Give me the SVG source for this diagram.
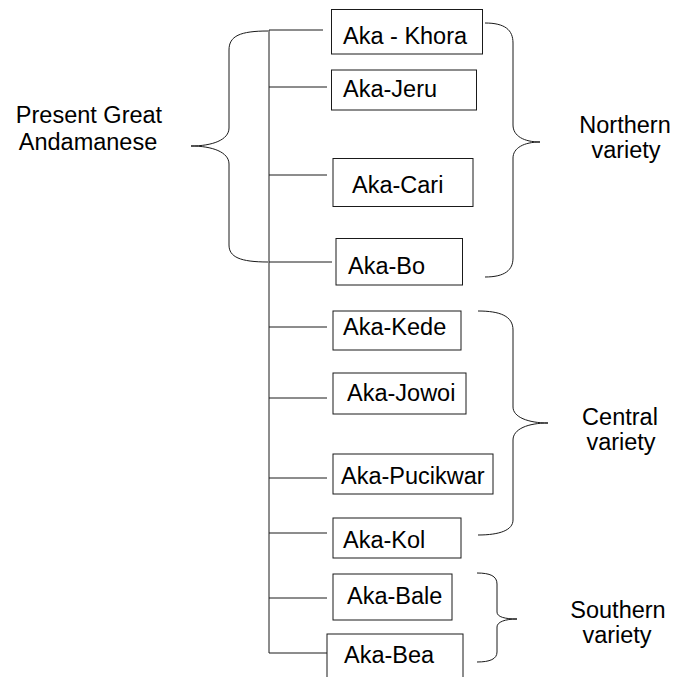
<svg xmlns="http://www.w3.org/2000/svg" width="673" height="677" viewBox="0 0 673 677">
<style>
  .box { fill: #ffffff; stroke: #1a1a1a; stroke-width: 1; }
  .line { fill: none; stroke: #1a1a1a; stroke-width: 1; }
  .brace { fill: none; stroke: #1a1a1a; stroke-width: 1; }
  text { font-family: "Liberation Sans", Arial, sans-serif; font-size: 23.5px; fill: #000000; }
  .mid { text-anchor: middle; }
</style>
<rect x="0" y="0" width="673" height="677" fill="#ffffff"/>

<g id="connectors">
  <line class="line" x1="269" y1="30" x2="269" y2="653"/>
  <line class="line" x1="269" y1="30" x2="323" y2="30"/>
  <line class="line" x1="269" y1="87" x2="327" y2="87"/>
  <line class="line" x1="269" y1="175" x2="327" y2="175"/>
  <line class="line" x1="269" y1="262" x2="332" y2="262"/>
  <line class="line" x1="269" y1="327" x2="327" y2="327"/>
  <line class="line" x1="269" y1="398" x2="327" y2="398"/>
  <line class="line" x1="269" y1="478" x2="327" y2="478"/>
  <line class="line" x1="269" y1="533" x2="327" y2="533"/>
  <line class="line" x1="269" y1="598" x2="327" y2="598"/>
  <line class="line" x1="269" y1="653" x2="327" y2="653"/>
</g>

<g id="braces">
  <path id="brace-great" class="brace" d="M 268,31 C 240,31 229,36 229,50 L 229,128 C 229,140 212,146 191,146 C 212,146 229,152 229,164 L 229,245 C 229,257 240,262 268,262"/>
  <path id="brace-northern" class="brace" d="M 485,23 C 505,23 513,30 513,43 L 513,125 C 513,136 524,142 540,142 C 524,142 513,148 513,158 L 513,258 C 513,270 505,277 485,277"/>
  <path id="brace-central" class="brace" d="M 478,311 C 500,311 513,316 513,330 L 513,407 C 513,417 528,423 548,423 C 528,423 513,429 513,440 L 513,520 C 513,530 500,535 478,535"/>
  <path id="brace-southern" class="brace" d="M 477,573 C 490,573 497,576 497,584 L 497,612 C 497,617 505,619 517,619 C 505,619 497,622 497,627 L 497,652 C 497,659 490,662 477,662"/>
</g>

<g id="label-great">
  <text class="mid" x="89" y="123">Present Great</text>
  <text class="mid" x="88" y="150">Andamanese</text>
</g>
<g id="label-northern">
  <text class="mid" x="625" y="133">Northern</text>
  <text class="mid" x="626" y="158">variety</text>
</g>
<g id="label-central">
  <text class="mid" x="620" y="425">Central</text>
  <text class="mid" x="621" y="450">variety</text>
</g>
<g id="label-southern">
  <text class="mid" x="618" y="618">Southern</text>
  <text class="mid" x="617" y="643">variety</text>
</g>

<g id="node-khora">
  <rect class="box" x="331.5" y="9.5" width="151" height="44.5"/>
  <text x="343" y="44">Aka - Khora</text>
</g>
<g id="node-jeru">
  <rect class="box" x="331.5" y="70" width="145" height="40"/>
  <text x="343" y="97">Aka-Jeru</text>
</g>
<g id="node-cari">
  <rect class="box" x="333" y="158.5" width="140" height="48"/>
  <text x="352" y="193">Aka-Cari</text>
</g>
<g id="node-bo">
  <rect class="box" x="336" y="238.5" width="126.5" height="46.5"/>
  <text x="348" y="274">Aka-Bo</text>
</g>
<g id="node-kede">
  <rect class="box" x="333" y="311" width="128" height="39"/>
  <text x="343" y="335">Aka-Kede</text>
</g>
<g id="node-jowoi">
  <rect class="box" x="333" y="373" width="133" height="41"/>
  <text x="347" y="401">Aka-Jowoi</text>
</g>
<g id="node-pucikwar">
  <rect class="box" x="333" y="454" width="160" height="40"/>
  <text x="341" y="484">Aka-Pucikwar</text>
</g>
<g id="node-kol">
  <rect class="box" x="333" y="518" width="128" height="40"/>
  <text x="343" y="548">Aka-Kol</text>
</g>
<g id="node-bale">
  <rect class="box" x="333" y="574" width="119" height="46"/>
  <text x="347" y="604">Aka-Bale</text>
</g>
<g id="node-bea">
  <rect class="box" x="327" y="634" width="136" height="60"/>
  <text x="344" y="663">Aka-Bea</text>
</g>
</svg>
